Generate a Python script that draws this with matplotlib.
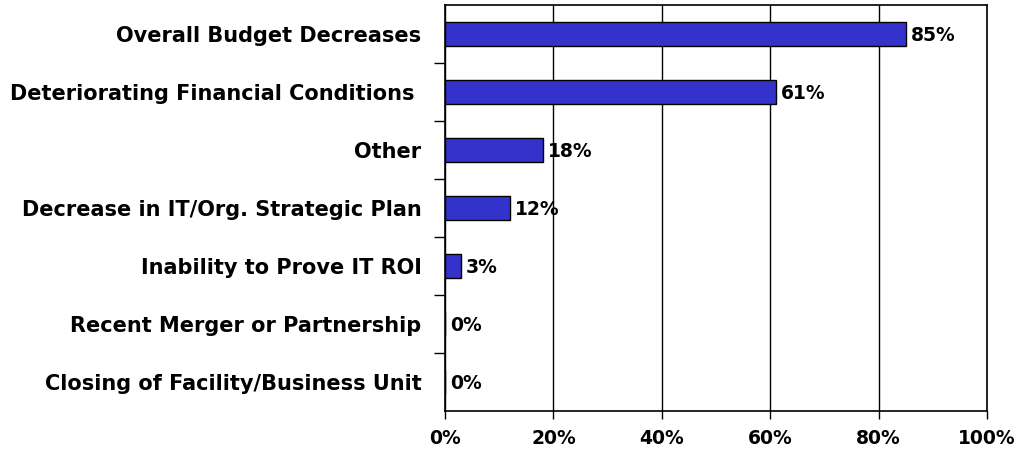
import matplotlib
matplotlib.use("Agg")
import matplotlib.pyplot as plt
from matplotlib.ticker import FuncFormatter

categories = ["Overall Budget Decreases", "Deteriorating Financial Conditions ",
              "Other", "Decrease in IT/Org. Strategic Plan", "Inability to Prove IT ROI",
              "Recent Merger or Partnership", "Closing of Facility/Business Unit"]
values = [85, 61, 18, 12, 3, 0, 0]
xticks = [0, 20, 40, 60, 80, 100]

W, H = 1023, 451
fig = plt.figure(figsize=(W/100, H/100), dpi=100)
ax = fig.add_axes([445/W, 1-411/H, (987-445)/W, (411-5)/H])

n = len(categories)
ypos = list(range(n))
ax.barh(ypos, values, height=0.41, color="#3333CC", edgecolor="black", linewidth=1.0, zorder=3)
for y, v in zip(ypos, values):
    ax.text(v + 0.9, y + 0.03, f"{v}%", va="center", ha="left", fontsize=13.5,
            fontweight="bold", family="DejaVu Sans", zorder=4)

ax.set_xlim(0, 100)
ax.set_ylim(n - 0.5, -0.5)
ax.set_xticks(xticks)
ax.xaxis.set_major_formatter(FuncFormatter(lambda v, p: f"{int(v)}%"))
ax.grid(axis="x", color="black", linewidth=1.0, zorder=1)
ax.set_yticks(ypos)
ax.set_yticklabels(categories)
ax.set_yticks([i + 0.5 for i in range(n - 1)], minor=True)
ax.tick_params(axis="y", which="major", length=0, pad=17)
ax.tick_params(axis="y", which="minor", length=8, width=1.0)
ax.tick_params(axis="x", length=6, width=1.0, pad=7)
for lab in ax.get_yticklabels():
    lab.set_fontweight("bold"); lab.set_fontsize(15); lab.set_family("DejaVu Sans")
for lab in ax.get_xticklabels():
    lab.set_fontweight("bold"); lab.set_fontsize(13.5); lab.set_family("DejaVu Sans")
for s in ax.spines.values():
    s.set_linewidth(1.2)

fig.savefig("out.png", dpi=100)
